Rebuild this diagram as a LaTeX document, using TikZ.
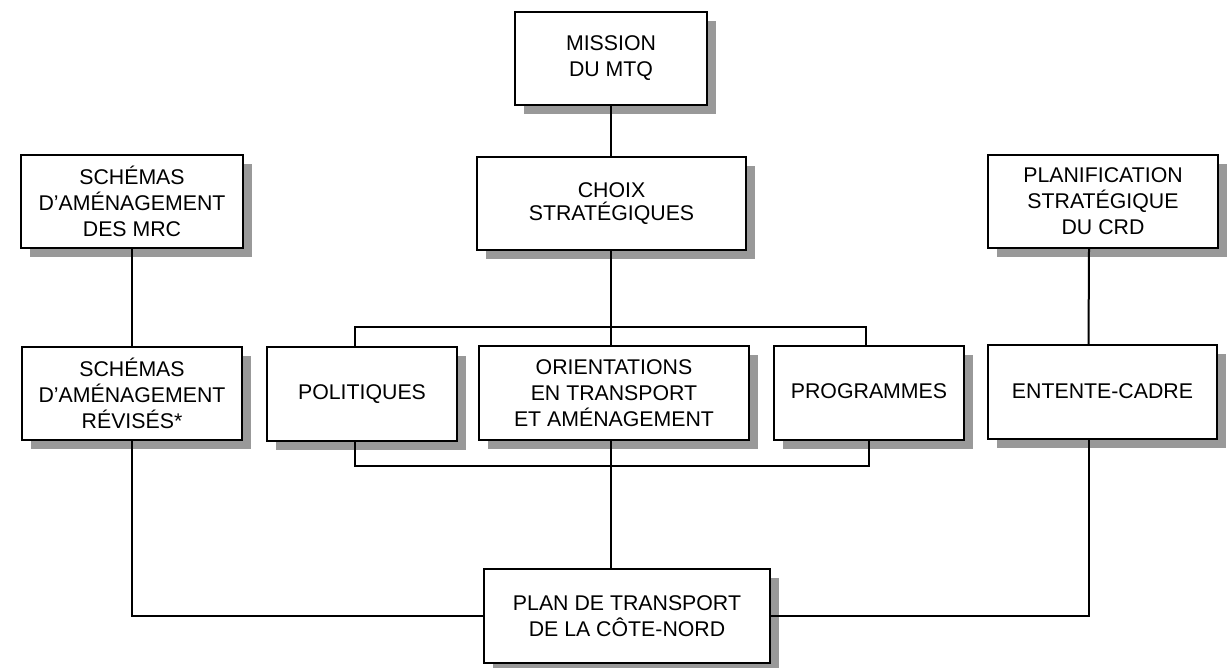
\documentclass[tikz,border=0pt]{standalone}
\usepackage{fontspec}
\setmainfont{Liberation Sans}
\usetikzlibrary{shadows}
\definecolor{shadowgray}{RGB}{153,153,153}
\tikzset{
	bloc/.style={draw, line width=2pt, fill=white, align=center, inner sep=0pt,
		minimum height=93pt, font=\fontsize{21.3}{26}\selectfont,
		drop shadow={shadow xshift=9pt, shadow yshift=-9pt, fill=shadowgray, opacity=1}},
	link/.style={line width=2pt}
}
\begin{document}
\begin{tikzpicture}[x=1pt, y=-1pt]
			\useasboundingbox (0,0) rectangle (1231,668);
			% Top of the chart
			\node[bloc, minimum width=192pt] (mission) at (611,58.5) {MISSION\\ DU MTQ};
			\node[bloc, minimum width=269pt, font=\fontsize{21.3}{22.5}\selectfont] (choix) at (611.5,203.5) {\raisebox{3pt}{CHOIX}\\ \raisebox{3pt}{STRATÉGIQUES}};
			\node[bloc, minimum width=222pt] (mrc) at (132,201.5) {SCHÉMAS\\ D’AMÉNAGEMENT\\ DES MRC};
			\node[bloc, minimum width=230pt] (planif) at (1103,201.5) {PLANIFICATION\\ STRATÉGIQUE\\ DU CRD};

			% Middle row
			\node[bloc, minimum width=220pt] (revises) at (132,393.5) {SCHÉMAS\\ D’AMÉNAGEMENT\\ RÉVISÉS*};
			\node[bloc, minimum width=190pt, minimum height=94pt] (politiques) at (362,394) {\raisebox{4pt}{POLITIQUES}};
			\node[bloc, minimum width=270pt, minimum height=94pt] (orientations) at (614,393) {ORIENTATIONS\\ EN TRANSPORT\\ ET AMÉNAGEMENT};
			\node[bloc, minimum width=190pt, minimum height=94pt] (programmes) at (869,393) {\raisebox{3pt}{PROGRAMMES}};
			\node[bloc, minimum width=229pt, minimum height=94pt] (entente) at (1102.5,392) {\raisebox{1pt}{ENTENTE-CADRE}};

			% Bottom
			\node[bloc, minimum width=286pt, minimum height=94pt] (plan) at (627,616) {PLAN DE TRANSPORT\\ DE LA CÔTE-NORD};

			\coordinate (bustop) at (611,327);
			\coordinate (busbot) at (611,466);

			\draw[link] (mission) -- (mission |- choix.north);
			\draw[link] (bustop |- choix.south) -- (bustop);
			\draw[link] ([xshift=-7pt]politiques.north) |- (bustop) -| ([xshift=-3pt]programmes.north);
			\draw[link] (bustop) -- (bustop |- orientations.north);
			\draw[link] ([xshift=-7pt]politiques.south) |- (busbot) -| (programmes.south);
			\draw[link] (busbot |- orientations.south) -- (busbot) -- (busbot |- plan.north);

			\draw[link] (mrc) -- (revises);
			\draw[link] (revises.south) |- (plan.west);
			\draw[link] ([xshift=-14pt]planif.south) -- ([xshift=-14pt]entente.north);
			\draw[link] ([xshift=-14pt]entente.south) |- (plan.east);
		\end{tikzpicture}
\end{document}
